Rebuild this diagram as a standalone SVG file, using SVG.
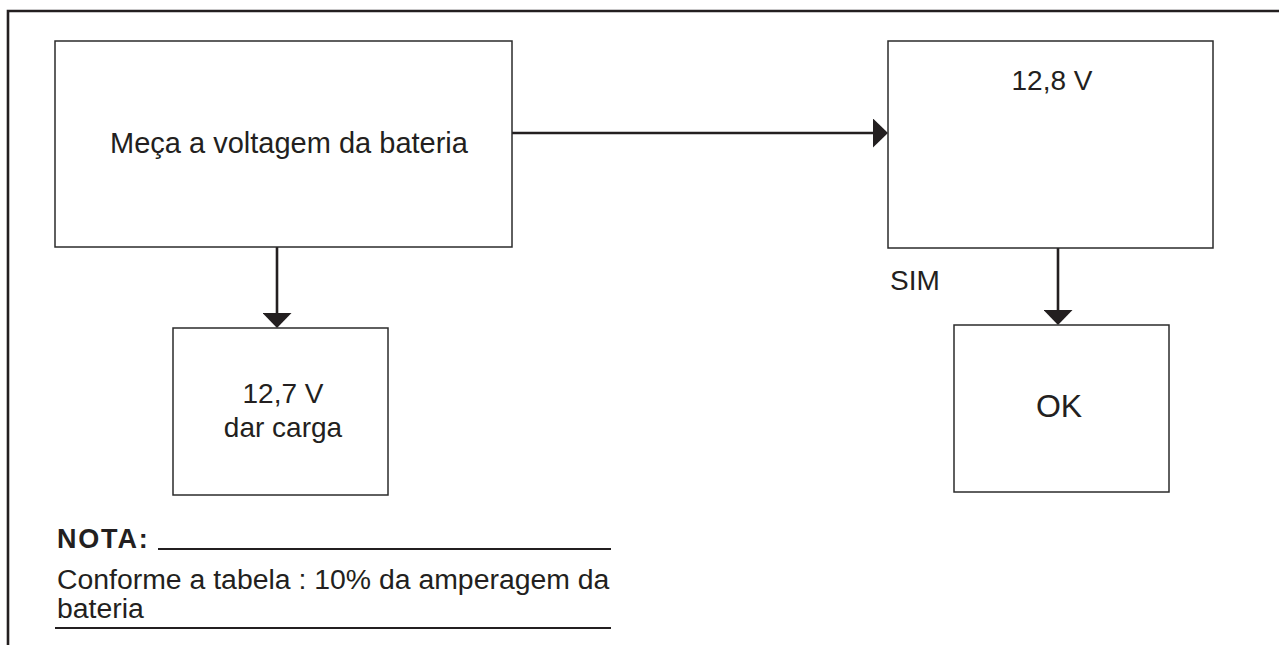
<svg xmlns="http://www.w3.org/2000/svg" width="1279" height="645" viewBox="0 0 1279 645">
  <style>
    .box { fill: #ffffff; stroke: #2b2b2b; stroke-width: 1.5; }
    .frame { fill: none; stroke: #231f20; stroke-width: 2.6; }
    .wire { fill: none; stroke: #231f20; stroke-width: 2.6; }
    .rule { stroke: #231f20; stroke-width: 2.2; }
    .lbl { font-family: "Liberation Sans", Arial, Helvetica, sans-serif; fill: #231f20; }
    .mid { text-anchor: middle; }
  </style>
  <defs>
    <marker id="head" markerUnits="userSpaceOnUse" viewBox="0 0 15 29" refX="0" refY="14.5" markerWidth="15" markerHeight="29" orient="auto">
      <path d="M0,0 L15,14.5 L0,29 Z" fill="#231f20"/>
    </marker>
  </defs>

  <rect width="1279" height="645" fill="#ffffff"/>

  <!-- page frame: top and left edges -->
  <path class="frame" d="M8,645 L8,11 L1279,11"/>

  <!-- connectors -->
  <g id="connectors">
    <path class="wire" d="M512,133 L873,133" marker-end="url(#head)"/>
    <path class="wire" d="M277,247 L277,313" marker-end="url(#head)"/>
    <path class="wire" d="M1058,248 L1058,310" marker-end="url(#head)"/>
    <text class="lbl" x="890" y="290" font-size="28">SIM</text>
  </g>

  <g id="measure">
    <rect class="box" x="55" y="41" width="457" height="206"/>
    <text class="lbl mid" x="289" y="153" font-size="29">Meça a voltagem da bateria</text>
  </g>

  <g id="v128">
    <rect class="box" x="888" y="41" width="325" height="207"/>
    <text class="lbl mid" x="1052" y="90" font-size="28">12,8 V</text>
  </g>

  <g id="v127">
    <rect class="box" x="173" y="328" width="215" height="167"/>
    <text class="lbl mid" x="283" y="403" font-size="28">12,7 V</text>
    <text class="lbl mid" x="283" y="437" font-size="28">dar carga</text>
  </g>

  <g id="ok">
    <rect class="box" x="954" y="325" width="215" height="167"/>
    <text class="lbl mid" x="1059" y="417" font-size="32">OK</text>
  </g>

  <!-- note block -->
  <g id="note">
    <text class="lbl" x="57" y="548" font-size="27" font-weight="bold" letter-spacing="1.8">NOTA:</text>
    <line class="rule" x1="158" y1="549" x2="611" y2="549"/>
    <text class="lbl" x="57" y="589" font-size="28.4">Conforme a tabela : 10% da amperagem da</text>
    <text class="lbl" x="57" y="618" font-size="28.4">bateria</text>
    <line class="rule" x1="55" y1="628" x2="611" y2="628"/>
  </g>
</svg>
